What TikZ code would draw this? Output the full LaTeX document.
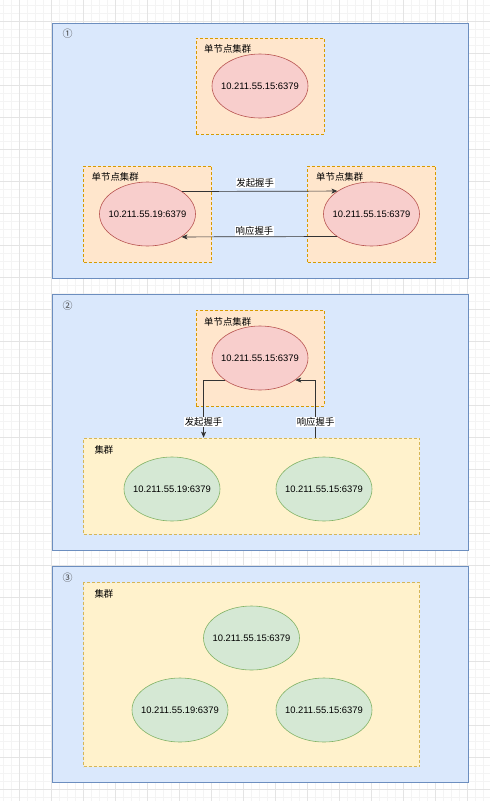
\documentclass[tikz,border=0pt]{standalone}
\usepackage{fontspec}
\setmainfont{Liberation Sans}
\newfontfamily\cjk{Noto Sans CJK SC}
\usetikzlibrary{shapes.geometric,arrows.meta,calc}
\definecolor{pfill}{HTML}{DAE8FC}\definecolor{pline}{HTML}{6C8EBF}
\definecolor{ofill}{HTML}{FFE6CC}\definecolor{oline}{HTML}{D79B00}
\definecolor{rfill}{HTML}{F8CECC}\definecolor{rline}{HTML}{B85450}
\definecolor{yfill}{HTML}{FFF2CC}\definecolor{yline}{HTML}{D6B656}
\definecolor{gfill}{HTML}{D5E8D4}\definecolor{gline}{HTML}{82B366}
\definecolor{edgec}{HTML}{333333}
\definecolor{gridminor}{HTML}{F4F4F4}
\definecolor{gridmajor}{HTML}{E4E4E4}
\newcommand{\ip}[1]{\makebox[0pt]{#1}}
\begin{document}
\begin{tikzpicture}[x=1pt,y=-1pt,
  font=\fontsize{9.4}{11}\selectfont,
  panel/.style={draw=pline,fill=pfill,line width=0.9pt,inner sep=0,minimum width=416pt},
  obox/.style={draw=oline,fill=ofill,line width=0.6pt,dash pattern=on 3pt off 2pt,inner sep=0,minimum width=128pt,minimum height=96pt},
  ybox/.style={draw=yline,fill=yfill,line width=0.6pt,dash pattern=on 3pt off 2pt,inner sep=0,minimum width=336pt},
  rnode/.style={ellipse,draw=rline,fill=rfill,line width=0.6pt,inner sep=0,minimum width=96pt,minimum height=64pt},
  gnode/.style={ellipse,draw=gline,fill=gfill,line width=0.6pt,inner sep=0,minimum width=96pt,minimum height=64pt},
  title/.style={anchor=west,inner sep=0,font=\cjk\fontsize{9.4}{11}\selectfont},
  num/.style={inner sep=0,font=\cjk\fontsize{10}{11}\selectfont,text=black!75},
  conn/.style={draw=edgec,line width=0.7pt,-{Stealth[length=6pt,width=5pt,inset=1.5pt]}},
  elabel/.style={fill=white,inner sep=0.6pt,font=\cjk\fontsize{9.4}{11}\selectfont}
]
\useasboundingbox (0,0) rectangle (490,801);
\fill[white] (0,0) rectangle (490,801);
% background grid
\foreach \x in {3.3,11.3,...,490} \draw[gridminor,line width=0.5pt] (\x,0) -- (\x,801);
\foreach \y in {5.7,13.7,...,801} \draw[gridminor,line width=0.5pt] (0,\y) -- (490,\y);
\foreach \x in {19.3,51.3,...,490} \draw[gridmajor,line width=0.6pt] (\x,0) -- (\x,801);
\foreach \y in {21.7,53.7,...,801} \draw[gridmajor,line width=0.6pt] (0,\y) -- (490,\y);

% ---------- panel 1 ----------
\node[panel,minimum height=255pt] (p1) at (260,150.5) {};
\node[num] (n1) at (67.7,34) {①};
\node[obox] (o1) at (260,86) {};
\node[title] (t1) at (204,49) {单节点集群};
\node[rnode] (e1) at (260,86) {\ip{10.211.55.15:6379}};
\node[obox] (oL) at (147.5,214) {};
\node[title] (tL) at (91.5,177) {单节点集群};
\node[rnode] (eL) at (147.5,214) {\ip{10.211.55.19:6379}};
\node[obox] (oR) at (371.5,214) {};
\node[title] (tR) at (316,177) {单节点集群};
\node[rnode] (eR) at (371.5,214) {\ip{10.211.55.15:6379}};
\draw[conn] (eL.33.6) -- node[elabel,pos=0.47,yshift=8.4pt] {发起握手} (eR.146.4);
\draw[conn] (eR.213.6) -- node[elabel,pos=0.53,yshift=6pt] {响应握手} (eL.326.4);

% ---------- panel 2 ----------
\node[panel,minimum height=256pt] (p2) at (260,422) {};
\node[num] (n2) at (67.7,306) {②};
\node[obox] (o2) at (260,358) {};
\node[title] (t2) at (204,321.7) {单节点集群};
\node[rnode] (e2) at (260,358) {\ip{10.211.55.15:6379}};
\node[ybox,minimum height=96pt] (c2) at (251.5,486) {};
\node[title] (tc2) at (94.3,450) {集群};
\node[gnode] (g2a) at (172,489) {\ip{10.211.55.19:6379}};
\node[gnode] (g2b) at (324,489) {\ip{10.211.55.15:6379}};
\coordinate (in2) at ($(c2.north west)!0.3576!(c2.north east)$);
\coordinate (out2) at ($(c2.north west)!0.6905!(c2.north east)$);
\draw[conn] (e2.213.9) -| node[elabel,pos=0.86] {发起握手} (in2);
\draw[conn] (out2) |- node[elabel,pos=0.14] {响应握手} (e2.328.6);

% ---------- panel 3 ----------
\node[panel,minimum height=216pt] (p3) at (260,674) {};
\node[num] (n3) at (67.7,577.7) {③};
\node[ybox,minimum height=184pt] (c3) at (251.5,674.5) {};
\node[title] (tc3) at (94.3,594) {集群};
\node[gnode] (g3a) at (251.5,638) {\ip{10.211.55.15:6379}};
\node[gnode] (g3b) at (180,710) {\ip{10.211.55.19:6379}};
\node[gnode] (g3c) at (324,710) {\ip{10.211.55.15:6379}};
\end{tikzpicture}
\end{document}
